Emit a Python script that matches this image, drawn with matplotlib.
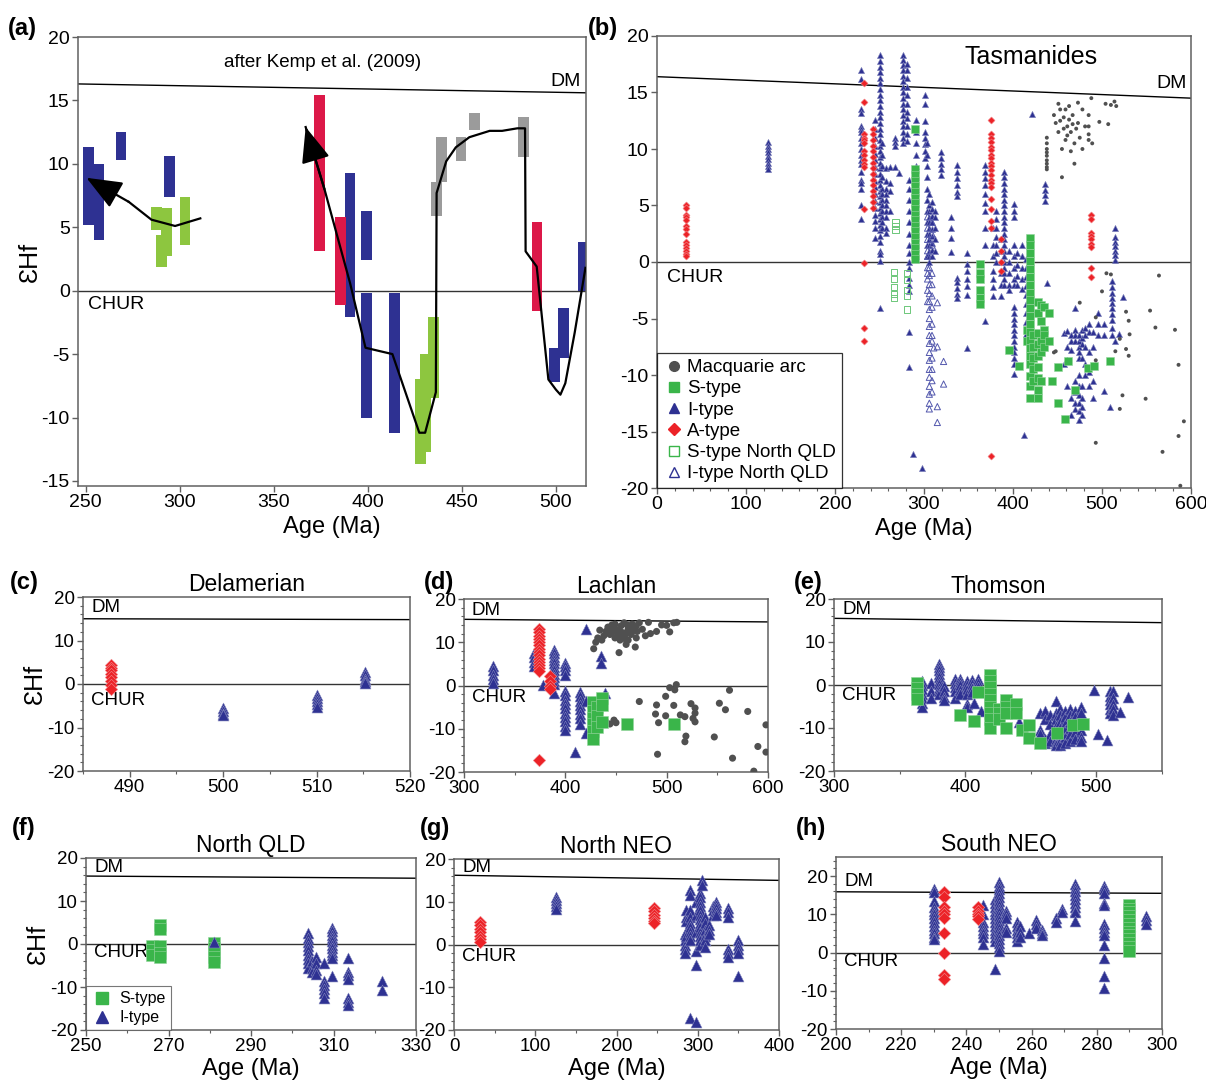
import matplotlib.pyplot as plt
from matplotlib.ticker import MultipleLocator
from matplotlib.lines import Line2D

plt.rcParams['font.family'] = ['Liberation Sans', 'DejaVu Sans']
plt.rcParams['axes.unicode_minus'] = False

W, H = 1206, 1091
BLUE = '#2E3192'
RED = '#EC2227'
GREEN = '#3AB54A'
GRAY = '#505050'
SPINE = '#606060'

# ---------------- panel (a): ranges after Kemp et al. (2009)
a_bar_mid = [251.5, 257.2, 268.8, 294.8, 390.5, 399.5, 399.5, 414.3, 499.2, 504.2, 514.5,
             374.5, 385.5, 490.0,
             287.7, 290.2, 293.2, 302.9, 428.2, 430.8, 434.9,
             436.4, 439.3, 449.6, 456.8, 482.6]
a_bar_lo = [5.2, 4.0, 10.3, 7.4, -2.1, 2.4, -10.0, -11.2, -7.2, -5.3, 0.0,
            3.1, -1.1, -1.6,
            4.8, 1.9, 2.7, 3.6, -13.7, -12.7, -8.5,
            5.9, 8.6, 10.2, 12.7, 10.5]
a_bar_hi = [11.3, 10.0, 12.5, 10.6, 9.3, 6.3, -0.2, -0.2, -4.5, -1.4, 3.8,
            15.4, 5.8, 5.4,
            6.6, 4.4, 6.5, 7.4, -7.0, -5.0, -2.1,
            8.6, 12.1, 12.1, 14.0, 13.7]
a_bar_group = ['I'] * 11 + ['A'] * 3 + ['S'] * 7 + ['M'] * 5

a_trend1_age = [311, 297.6, 285, 273, 250.5]
a_trend1_ehf = [5.7, 5.1, 5.6, 7.0, 8.9]
a_trend2_age = [367, 377, 390.6, 398.8, 413.1, 427.4, 430.5, 436.2, 436.6, 441.7, 446.8, 454,
                464.8, 471.4, 479.5, 483.6, 483.9, 489.8, 496, 500, 502.4, 505, 510, 515.7]
a_trend2_ehf = [12.9, 8.0, 0.6, -4.5, -5.0, -11.2, -11.2, -8.0, 7.7, 10.2, 11.3, 12.1,
                12.6, 12.6, 12.8, 12.8, 3.1, 1.9, -7.0, -7.8, -8.2, -7.3, -3.3, 1.8]

# ---------------- panel (b): Tasmanides, (age, [eHf ...]) columns
b_i = [
    (125, [10.6, 10.3, 10.0, 9.7, 9.4, 9.1, 8.8, 8.5, 8.2]),
    (229, [17.0, 16.2, 13.5, 13.2, 12.0, 11.8, 11.5, 11.0, 10.5, 10.0, 9.5, 9.0, 8.7, 8.0, 7.3, 7.0, 6.5, 5.0, 3.8]),
    (245, [12.6, 11.8, 11.0, 10.3, 9.6, 9.0, 8.4, 7.8, 7.2, 6.6, 6.0, 5.4, 4.8, 4.2, 3.6, 3.0, 2.1]),
    (250, [18.3, 17.8, 17.3, 16.8, 16.3, 15.8, 15.3, 14.8, 14.3, 13.8, 13.3, 12.8, 12.3, 11.8, 11.3, 10.8,
           10.3, 9.8, 9.3, 8.8, 8.3, 7.8, 7.3, 6.8, 6.3, 5.8, 5.3, 4.8, 4.3, 3.8, 3.3, 2.8, 2.3, 1.8, 1.0,
           0.7, 0.1, -4.1]),
    (253, [10.5, 9.5, 8.5, 7.5, 6.5, 6.0, 5.5, 5.0, 4.5, 4.0, 3.5, 3.0]),
    (257, [8.3, 7.2, 6.5, 6.0, 5.5, 5.0, 4.5, 4.0, 3.0, 2.6]),
    (262, [8.4, 7.0, 6.3, 4.5]),
    (267, [11.0, 10.6, 10.3, 8.4]),
    (272, [7.9]),
    (276, [18.3, 17.9, 17.4, 17.0, 16.5, 16.0, 15.5, 15.0, 14.5, 14.0, 13.5, 13.0, 12.5, 12.0, 11.5, 11.0, 10.5]),
    (281, [17.5, 17.0, 16.3, 15.5, 14.8, 14.0, 13.3, 12.7, 12.0, 11.3, 10.7]),
    (283, [7.3, 6.5, 5.5, 4.5, 3.5, 2.5, 1.5, 0.8, 0.0, -0.5, -1.4, -2.0, -2.6, -6.2, -9.3]),
    (288, [-17.0]),
    (291, [12.6, 11.5, 10.5, 9.5, 8.5, 7.5, 6.5, 5.5, 4.5, 3.5, 2.5, 1.5, 0.5]),
    (298, [-18.2]),
    (301, [14.8, 14.0, 12.5, 11.5, 11.0, 10.4, 9.8, 9.2]),
    (303, [10.5, 9.5, 8.5, 7.5, 6.5, 5.5, 4.5, 3.5, 2.5, 1.5, 0.5]),
    (306, [6.0, 5.0, 4.5, 4.0, 3.5, 3.0, 2.5, 2.0, 1.5, 1.0, 0.5, 0.0]),
    (309, [5.3, 4.7, 4.1, 3.5, 2.9, 2.3, 1.7, 1.1, 0.5]),
    (312, [4.5, 4.0, 3.0, 2.0, 1.0]),
    (319, [9.7, 9.2, 8.7, 8.2, 7.7]),
    (330, [4.0, 3.0, 2.1, 0.9]),
    (337, [8.6, 8.0, 7.4, 6.8, 6.2, 5.8, -1.4, -1.8, -2.3, -2.8, -3.2]),
    (348, [0.8, -0.2, -0.8, -1.5, -2.1, -2.9, -7.6]),
    (369, [8.6, 8.0, 7.4, 6.8, 6.0, 5.2, 4.5, 3.0, 1.5, -5.2]),
    (378, [3.0, 1.5, 0.5, -0.8, -1.5, -2.2, -3.0]),
    (381, [4.5, 3.8, 3.0, 2.2, 1.5, 0.8, 0.0]),
    (386, [2.0, 1.0, 0.0, -1.0, -2.0, -3.0]),
    (390, [8.0, 7.5, 7.0, 6.5, 6.0, 5.5, 5.0, 4.5, 4.0, 3.5, 3.0, 2.5, 2.0, 1.5, 1.0, 0.5, 0.0, -0.5,
           -1.0, -1.5, -2.0]),
    (395, [1.0, 0.0, -1.0, -2.0, -2.5]),
    (401, [5.1, 4.5, 4.0, 1.5, 0.5, -0.5, -1.5, -2.0, -4.0, -4.5, -5.0, -5.5, -6.0, -6.5, -7.0, -7.5,
           -8.0, -8.5, -9.0, -9.9]),
    (405, [0.8, -0.3, -1.2, -2.0]),
    (410, [1.5, 0.5, -0.5, -1.5, -2.4]),
    (412, [-15.3]),
    (415, [0.3, -0.5, -1.3, -2.1, -2.9, -3.7, -4.5, -5.3, -6.4]),
    (421, [13.1]),
    (436, [6.9, 6.4, 5.9, 5.4]),
    (438, [-1.9]),
    (457, [-6.3, -9.0]),
    (461, [-6.1, -7.5, -8.7, -11.0]),
    (465, [-6.5, -7.0, -7.8, -12.0, -13.5]),
    (470, [-4.1, -6.0, -6.5, -7.0, -10.5, -11.5, -12.5, -13.0]),
    (474, [-6.5, -7.0, -7.5, -8.0, -8.5, -10.0, -11.0, -11.8, -12.5, -13.2, -14.0]),
    (477, [-6.0, -6.7, -7.3, -8.5, -11.0, -12.0, -12.8, -13.5]),
    (481, [-5.8, -6.5, -7.5, -9.0, -10.0]),
    (485, [-5.5, -6.2, -8.0, -9.7, -11.0]),
    (490, [-6.2, -7.5, -10.5, -12.0]),
    (495, [-4.5, -5.5, -6.5]),
    (502, [-5.5, -6.5, -11.4]),
    (509, [-12.8]),
    (511, [-1.7, -2.2, -2.7, -3.2, -3.6, -4.1, -4.6, -5.1, -5.8, -6.5]),
    (515, [3.0, 2.2, 1.8, 1.4, 1.0, 0.6, 0.2, -7.0]),
    (519, [-6.4]),
    (524, [-3.1]),
]
b_s = [
    (290, [11.8, 8.2, 7.7, 7.2, 6.7, 6.2, 5.7, 5.2, 4.7, 4.2, 3.7, 3.2, 2.7, 2.2, 1.7, 1.2, 0.7, 0.3]),
    (363, [-0.2, -1.0, -1.5, -2.5, -3.2, -3.7]),
    (396, [-7.8]),
    (407, [-9.2]),
    (416, [-6.0, -7.0]),
    (419, [2.1, 1.5, 0.8, 0.1, -0.6, -1.3, -2.0, -2.7, -3.4, -4.1, -4.8, -5.5, -6.2, -6.9, -7.6, -8.3,
           -9.0, -10.1, -11.0, -12.0]),
    (423, [-6.5, -7.5, -8.5, -9.5, -10.5]),
    (428, [-3.5, -4.5, -6.3, -7.3, -8.3, -9.3, -10.3, -11.3, -12.0]),
    (431, [-3.8, -5.2, -7.0, -8.0, -10.5]),
    (435, [-4.0, -6.0, -6.5, -7.5]),
    (440, [-4.5, -7.0]),
    (444, [-10.5]),
    (451, [-9.3, -12.5]),
    (458, [-13.9]),
    (462, [-8.8]),
    (470, [-11.3]),
    (484, [-9.4]),
    (491, [-9.2]),
    (509, [-8.8]),
]
b_a = [
    (33, [5.0, 4.8, 4.2, 4.0, 3.7, 3.2, 2.9, 2.5, 1.8, 1.5, 1.2, 1.0, 0.7, 0.5]),
    (233, [15.8, 14.2, 11.3, 11.0, 10.8, 10.5, 9.8, 9.5, 9.0, 8.7, 8.4, 4.7, -0.1, -5.8, -7.0]),
    (243, [11.8, 11.3, 10.8, 10.3, 9.8, 9.3, 8.8, 8.3, 7.8, 7.3, 6.8, 6.3, 5.8, 5.3, 4.8]),
    (375, [12.6, 11.3, 11.0, 10.6, 10.2, 9.9, 9.5, 9.2, 8.8, 8.5, 8.1, 7.7, 7.3, 7.0, 6.6, 5.6, 4.7,
           3.6, 3.0, -17.2]),
    (387, [2.0, 1.0, 0.0, -0.8]),
    (488, [4.2, 3.8, 2.6, 2.3, 2.0, 1.6, 1.3, -0.5, -1.3]),
]
b_mac = [
    (438, [11.0, 10.5, 10.0, 9.7, 9.4, 9.0, 8.7, 8.4, 8.2]),
    (446, [13.0, -8.0]), (448, [12.3, -7.9]), (451, [14.0, 11.5]), (453, [13.5, 12.5]),
    (455, [10.0, 7.5]), (457, [11.8, 12.8]), (459, [13.5, 10.8]), (461, [12.0, 11.2]),
    (463, [13.8, 12.6]), (465, [9.8, 11.5]), (467, [12.2, 13.0]), (469, [10.5, 8.7]),
    (471, [11.8]), (473, [12.3, 14.1]), (475, [11.0, -3.6]), (478, [10.0, 13.5]), (481, [12.0]),
    (485, [10.8, 13.0, 12.0, 11.3]), (488, [14.5]), (489, [10.5]), (493, [-4.9, -8.7, -16.0]),
    (497, [12.4]), (500, [-2.6]), (504, [14.0]), (505, [-1.0]), (507, [12.2]), (510, [13.9, -1.1]),
    (514, [14.2]), (516, [13.8]), (515, [-7.9]), (520, [-6.8, -13.0]), (523, [-11.8]),
    (527, [-4.4, -7.7]), (530, [-5.2, -8.3]), (531, [-6.4]), (549, [-12.1]), (554, [-4.3]),
    (560, [-5.8]), (564, [-1.2]), (568, [-16.8]), (582, [-6.0]), (586, [-9.1, -15.4]),
    (588, [-19.8]), (592, [-14.1]),
]
b_s_nq = [(266, [-0.9, -1.5, -2.2, -2.8, -3.2]), (268, [3.5, 3.2, 2.8]), (281, [-1.0, -1.6, -2.5, -3.0, -4.2])]
b_i_nq = [
    (304, [4.0, 3.0, 2.0, 1.0, 0.5, -0.5, -1.0, -1.5, -2.5, -3.5]),
    (306, [-0.5, -1.2, -2.0, -2.8, -3.5, -4.2, -5.0, -5.7, -6.5, -7.2, -8.0, -8.7, -9.5, -10.2, -11.0,
           -11.7, -12.5, -13.0]),
    (309, [3.5, 2.5, 1.5, -1.0, -2.0, -3.0, -4.0, -5.5, -6.5, -7.0, -8.5, -9.5, -10.5, -11.5]),
    (311, [-7.6]),
    (315, [-3.6, -7.5, -12.8, -14.2]),
    (322, [-8.8, -10.8]),
]

# ---------------- panel (c): Delamerian
c_a = [(488, [4.3, 3.6, 3.2, 2.4, 1.6, 0.8, -0.3, -1.1])]
c_i = [(500, [-5.5, -6.2, -6.8, -7.2]), (510, [-2.5, -3.2, -4.0, -4.6, -5.2]),
       (515.2, [2.8, 2.0, 1.2, 0.6, 0.2])]

# ---------------- panel (d): Lachlan
d_i = [
    (329, [4.5, 3.5, 2.5, 1.5, 0.6]),
    (369, [7.6, 6.5, 5.5, 4.5]),
    (378, [0.2]),
    (389, [8.3, 7.5, 6.7, 5.9, 5.1, 4.3, 3.5, 2.7, 1.9, 1.1, 0.3, -1.7]),
    (400, [5.3, 4.5, 3.5, 2.5, -1.3, -2.3, -3.3, -4.3, -5.3, -6.3, -7.3, -8.3, -9.3, -10.3]),
    (410, [-15.4]),
    (414, [-1.5, -2.5, -3.5, -4.5, -5.5, -6.5, -7.5, -9.0]),
    (420, [13.1, -3.5, -10.9]),
    (435, [6.9, 5.3]),
    (439, [-1.7]),
]
d_a = [(374, [13.1, 12.3, 11.5, 10.8, 10.0, 9.3, 8.5, 7.8, 7.0, 6.2, 5.5, 4.7, 4.0, 3.3, -17.3]),
       (385, [2.2, 1.0, 0.0, -0.9])]
d_s = [(427, [-3.7, -6.0, -7.5, -9.0, -10.5, -12.3]), (431, [-5.0, -7.0, -9.5]),
       (436, [-3.0, -4.5, -8.5]), (461, [-8.8]), (507, [-8.8])]
d_mac = [
    (428, [8.5]), (430, [10.0]), (432, [11.0]), (434, [12.8]), (436, [10.5]), (438, [11.5]),
    (440, [12.5, -8.4]), (442, [13.5]), (444, [11.8, -8.9]), (445, [12.0, 13.0]), (446, [14.0]),
    (448, [12.5, -8.0]), (449, [14.2, 11.0]), (450, [13.0, -8.6]), (452, [11.5]), (453, [7.6]),
    (454, [12.5, 10.5]), (455, [13.8]), (457, [12.2]), (458, [14.5, 11.5]), (459, [10.8]),
    (460, [12.0, 9.5]), (461, [14.0]), (462, [13.0, 10.5]), (463, [12.8]), (465, [11.8]),
    (466, [12.5, 14.2]), (467, [13.5]), (469, [8.9]), (470, [11.0, 13.8]), (471, [12.5]),
    (473, [14.5, -3.7]), (476, [13.0]), (479, [11.5]), (482, [14.6]), (484, [12.0]), (489, [-6.6]),
    (490, [12.5, -4.5]), (491, [-15.9]), (492, [-8.6]), (495, [14.0]), (499, [-2.5, -7.0]),
    (500, [13.9]), (503, [12.4, -0.5]), (507, [14.5, -4.6]), (508, [-1.0]), (509.5, [0.2]),
    (510, [14.6]), (513.5, [-6.8]), (518, [-7.2, -13.0]), (519, [-11.7]), (524, [-4.2]),
    (526, [-7.6]), (528, [-5.2, -6.4, -8.4]), (547, [-11.9]), (552, [-4.1]), (558, [-5.6]),
    (562, [-1.1]), (565, [-16.8]), (580, [-6.0]), (586, [-19.8]), (590, [-14.1]),
    (598, [-15.4, -9.1]),
]

# ---------------- panel (e): Thomson
e_i = [
    (367, [0.9, 0.0, -1.0, -2.0, -3.0, -4.2, -5.0]),
    (374, [0.5, -1.5, -3.0]),
    (380, [5.0, 4.2, 3.4, 2.6, 1.8, 1.0, 0.2, -0.6, -1.4, -2.2]),
    (384, [-0.3, -1.5, -2.8, -3.5]),
    (392, [1.5, 0.5, -0.5, -1.5, -3.0]),
    (396, [1.5, 0.8, 0.0, -1.2, -2.2]),
    (401, [1.0, 0.0, -1.0, -2.0, -4.5, -5.0]),
    (405, [1.2, 0.3, -0.7, -1.7]),
    (407, [-4.2]),
    (410, [1.5, 0.5, -0.5, -1.5]),
    (412, [-6.0]),
    (441, [-8.7]),
    (457, [-6.6, -10.5, -11.5]),
    (461, [-6.0, -8.0, -12.5, -13.5]),
    (465, [-7.0, -9.0, -11.5, -13.0]),
    (469, [-3.8, -6.5, -8.0, -9.5, -11.0, -12.5, -13.5, -14.0]),
    (472, [-5.5, -7.0, -8.5, -10.0, -11.5, -13.0, -14.0]),
    (476, [-6.0, -7.5, -9.0, -10.5, -12.0, -13.5]),
    (480, [-5.5, -7.0, -8.5, -10.0, -11.5, -13.0]),
    (484, [-6.0, -7.5, -9.5, -11.0, -12.5]),
    (488, [-5.0, -6.5, -10.5, -12.0, -13.0]),
    (498, [-1.1]),
    (501, [-11.3]),
    (508, [-12.8]),
    (510, [-1.5, -2.5, -3.5, -4.5, -5.5, -6.5]),
    (513, [-1.5, -3.0, -4.5, -5.5, -7.0]),
    (518, [-6.2]),
    (524, [-2.9]),
]
e_s = [
    (363, [0.5, -0.8, -2.0, -3.3]),
    (396, [-7.0]),
    (407, [-8.4]),
    (410, [-1.7]),
    (419, [2.4, 1.0, -0.5, -2.0, -3.5, -5.0, -6.5, -8.0, -10.1]),
    (426, [-5.5, -6.5, -8.0]),
    (431, [-3.5, -5.0, -6.5, -10.0]),
    (439, [-4.5, -6.5]),
    (443, [-10.5]),
    (449, [-9.3, -12.4]),
    (457, [-13.6]),
    (470, [-11.1]),
    (482, [-9.3]),
    (490, [-9.1]),
]

# ---------------- panel (f): North QLD
f_s = [(266, [-0.5, -1.5, -2.5]), (268, [4.5, 3.5, -0.5, -2.0, -3.0]), (281, [0.3, -1.0, -2.0, -3.0, -4.2])]
f_i = [
    (281, [0.5]),
    (303.7, [2.5, 1.5, 0.5, -0.5, -1.5, -2.5, -3.5, -4.5, -5.5]),
    (304.7, [-4.0, -5.5, -6.5]),
    (305.8, [-3.0, -4.5, -6.0, -7.0]),
    (307.7, [-4.5, -8.5, -9.5, -10.5, -11.5, -12.5]),
    (309.6, [3.8, 3.0, 2.2, 1.4, 0.6, -0.2, -1.0, -1.8, -2.6, -3.3, -7.5]),
    (313.6, [-3.3, -6.5, -7.3, -8.2, -12.5, -13.5, -14.3]),
    (321.7, [-8.7, -10.8]),
]
f_xticks = [250, 270, 290, 310, 330]

# ---------------- panel (g): North NEO
g_a = [(32, [5.3, 4.5, 3.7, 2.9, 2.1, 1.3, 0.7]), (246, [8.5, 7.8, 7.0, 6.3, 5.5, 5.0])]
g_i = [
    (126, [11.0, 10.3, 9.6, 9.0, 8.3]),
    (284, [2.5, 1.0, 0.0, -1.0, -2.0]),
    (286, [8.0, 6.5, 5.5, 3.0, 2.0]),
    (290, [12.8, 11.5, 8.0, 6.5, 5.0, 4.0, 3.0, 2.0, 1.0, -17.1]),
    (298, [10.0, 7.0, 3.0, -1.5, -4.7, -18.2]),
    (303, [12.0, 11.0, 10.0, 9.0, 8.0, 7.0, 6.0, 5.0, 4.0, 3.0, 2.0, 1.0, 0.0]),
    (305.6, [15.1, 14.0]),
    (308.5, [6.5, 5.0, 3.5, 2.0, 1.0, -0.5]),
    (313.8, [4.5, 3.5, 2.5]),
    (318.8, [9.0, 8.0, 7.0]),
    (322, [10.0, 9.3, 8.5, 7.5, 6.8]),
    (337, [8.5, 7.5, 6.5, -1.0, -2.0, -3.0]),
    (349.5, [1.0, 0.0, -1.0, -2.0, -7.3]),
]

# ---------------- panel (h): South NEO
h_i = [
    (230, [16.5, 15.8, 13.5, 12.0, 11.0, 10.0, 9.0, 8.0, 7.0, 6.0, 5.0, 4.0, 3.5]),
    (245, [12.5, 10.0, 8.0, 7.0, 6.0, 5.0, 4.0, 2.2]),
    (248.7, [14.0, 13.0, 12.0, 11.0, 10.0, 9.0, 8.0, 7.0, 6.0, 5.0, 4.0, 3.0, -4.3]),
    (250, [18.5, 17.5, 16.5, 15.5, 14.5, 13.5, 12.5, 11.5, 10.5, 9.5, 8.5, 7.5, 6.5, 5.5, 4.5, 3.5,
           2.5, 1.5, 0.5]),
    (252.3, [11.0, 10.0, 9.0, 6.5, 5.5]),
    (255.4, [8.0, 7.0, 6.0, 5.0, 4.0, 3.0]),
    (256.4, [7.0, 5.5, 4.0]),
    (259.2, [5.2]),
    (261.3, [8.5, 7.5, 6.5]),
    (263.3, [6.0, 5.0, 4.5]),
    (267.6, [9.0, 8.0]),
    (269.2, [11.5, 10.5]),
    (273.2, [18.0, 17.0, 16.0, 15.0, 14.0, 13.0, 12.0, 11.0, 10.5, 8.2]),
    (282.1, [17.5, 16.5, 15.5, 13.0, 12.5, 7.5, 6.5, 5.5, 4.5, 2.0, -1.5, -6.2, -9.4]),
    (290.1, [12.5, 7.0]),
    (295.2, [9.5, 8.5, 7.5]),
]
h_a = [(233.1, [15.8, 14.5, 12.0, 11.0, 10.0, 9.0, 5.0, 0.0, -5.8, -6.8]),
       (243.6, [11.8, 11.0, 10.2, 9.5, 8.8])]
h_s = [(289.9, [12.5, 11.5, 10.5, 9.5, 8.5, 7.5, 6.5, 5.5, 4.5, 3.5, 2.5, 1.5, 0.5])]

# DM reference line end points (age0, eHf0, age1, eHf1) per panel
dm_a = (246, 16.3, 516, 15.6)
dm_b = (0, 16.4, 600, 14.5)
dm_c = (485, 15.0, 520, 14.8)
dm_d = (300, 15.3, 600, 14.7)
dm_e = (300, 15.5, 550, 14.5)
dm_f = (250, 15.8, 330, 15.3)
dm_g = (0, 16.2, 400, 15.0)
dm_h = (200, 15.9, 300, 15.5)

STYLES = {
    'I': dict(marker='^', facecolors=BLUE, edgecolors='#8387bd', linewidths=0.4),
    'S': dict(marker='s', facecolors=GREEN, edgecolors='#93d49c', linewidths=0.4),
    'A': dict(marker='D', facecolors=RED, edgecolors='#f28b8e', linewidths=0.4),
    'M': dict(marker='o', facecolors=GRAY, edgecolors='none'),
    'SQ': dict(marker='s', facecolors='none', edgecolors='#6cc779', linewidths=0.7),
    'IQ': dict(marker='^', facecolors='none', edgecolors='#5358ad', linewidths=0.7),
}


def cols_xy(cols):
    xs, ys = [], []
    for age, vals in cols:
        xs.extend([age] * len(vals))
        ys.extend(vals)
    return xs, ys


def draw(ax, cols, kind, size):
    xs, ys = cols_xy(cols)
    ax.scatter(xs, ys, s=size, zorder=3, clip_on=True, **STYLES[kind])


fig = plt.figure(figsize=(W / 100, H / 100), dpi=100)


def px_axes(left, top, width, height):
    return fig.add_axes([left / W, 1 - (top + height) / H, width / W, height / H])


def frame(ax, xlim, ylim, dm, fs=13):
    ax.set_xlim(*xlim)
    ax.set_ylim(*ylim)
    ax.plot([dm[0], dm[2]], [dm[1], dm[3]], color='black', lw=1.0, zorder=2)
    ax.axhline(0, color='#333333', lw=1.0, zorder=2)
    for sp in ax.spines.values():
        sp.set_color(SPINE)
        sp.set_linewidth(1.1)
    ax.tick_params(which='both', direction='out', colors='black', labelsize=fs, pad=2)
    ax.tick_params(which='major', length=4, width=1, color=SPINE)
    ax.tick_params(which='minor', length=2.5, width=0.8, color=SPINE)


# ================= (a)
ax = px_axes(78, 37, 508, 449)
frame(ax, (246, 516), (-15.4, 20), dm_a, fs=14)
ax.xaxis.set_major_locator(MultipleLocator(50))
ax.yaxis.set_major_locator(MultipleLocator(5))
bar_colors = {'I': '#2E3192', 'A': '#DC1848', 'S': '#8DC63F', 'M': '#9B9B9B'}
ax.bar(a_bar_mid, [h - l for l, h in zip(a_bar_lo, a_bar_hi)], bottom=a_bar_lo, width=5.7,
       color=[bar_colors[g] for g in a_bar_group], zorder=2.5)
ax.plot(a_trend1_age[:-1], a_trend1_ehf[:-1], color='black', lw=1.6, zorder=4)
ax.plot(a_trend2_age, a_trend2_ehf, color='black', lw=1.6, zorder=4)
for tip, tail in [((a_trend1_age[-1], a_trend1_ehf[-1]), (a_trend1_age[-2], a_trend1_ehf[-2])),
                  ((a_trend2_age[0], a_trend2_ehf[0]), (a_trend2_age[1], a_trend2_ehf[1]))]:
    ax.annotate('', xy=tip, xytext=tail, zorder=5,
                arrowprops=dict(arrowstyle='-|>,head_length=1.1,head_width=0.45', color='black',
                                lw=1.6, mutation_scale=20, shrinkA=0, shrinkB=0))
ax.text(376, 18.0, 'after Kemp et al. (2009)', ha='center', va='center', fontsize=13.5)
ax.text(513, 16.5, 'DM', ha='right', va='center', fontsize=14)
ax.text(251.5, -1.1, 'CHUR', ha='left', va='center', fontsize=14)
ax.set_ylabel('ƐHf', fontsize=18, labelpad=0)
ax.set_xlabel('Age (Ma)', fontsize=17, labelpad=3)

# ================= (b)
ax = px_axes(657, 36, 534, 452)
frame(ax, (0, 600), (-20, 20), dm_b, fs=14)
ax.xaxis.set_major_locator(MultipleLocator(100))
ax.xaxis.set_minor_locator(MultipleLocator(20))
ax.yaxis.set_major_locator(MultipleLocator(5))
draw(ax, b_i, 'I', 20)
draw(ax, b_i_nq, 'IQ', 20)
draw(ax, b_s_nq, 'SQ', 20)
draw(ax, b_a, 'A', 13)
draw(ax, b_s, 'S', 28)
draw(ax, b_mac, 'M', 8)
ax.text(0.70, 0.953, 'Tasmanides', transform=ax.transAxes, ha='center', va='center', fontsize=18)
ax.text(0.992, 15.8, 'DM', transform=ax.get_yaxis_transform(), ha='right', va='center', fontsize=14)
ax.text(0.018, -1.4, 'CHUR', transform=ax.get_yaxis_transform(), ha='left', va='center', fontsize=14)
ax.set_xlabel('Age (Ma)', fontsize=17, labelpad=3)
handles = [
    Line2D([], [], ls='none', marker='o', ms=7, mfc=GRAY, mec=GRAY),
    Line2D([], [], ls='none', marker='s', ms=7, mfc=GREEN, mec=GREEN),
    Line2D([], [], ls='none', marker='^', ms=7, mfc=BLUE, mec=BLUE),
    Line2D([], [], ls='none', marker='D', ms=6, mfc=RED, mec=RED),
    Line2D([], [], ls='none', marker='s', ms=7, mfc='none', mec=GREEN),
    Line2D([], [], ls='none', marker='^', ms=7, mfc='none', mec=BLUE),
]
labels = ['Macquarie arc', 'S-type', 'I-type', 'A-type', 'S-type North QLD', 'I-type North QLD']
leg = ax.legend(handles, labels, loc='lower left', fontsize=13.5, frameon=True, fancybox=False,
                borderaxespad=0, handletextpad=0.1, labelspacing=0.22, borderpad=0.3,
                handlelength=1.2)
leg.get_frame().set_edgecolor('black')
leg.get_frame().set_linewidth(0.9)

# ================= small panels


def small(ax, title, xlim, ylim, dm, xmaj, xmin, ylab=False, xlab=False, dm_y=17.5, chur_y=-2.5):
    frame(ax, xlim, ylim, dm, fs=13.5)
    ax.xaxis.set_major_locator(MultipleLocator(xmaj))
    ax.xaxis.set_minor_locator(MultipleLocator(xmin))
    ax.yaxis.set_major_locator(MultipleLocator(10))
    ax.yaxis.set_minor_locator(MultipleLocator(2))
    ax.set_title(title, fontsize=16.5, pad=4)
    ax.text(0.025, dm_y, 'DM', transform=ax.get_yaxis_transform(), ha='left', va='center', fontsize=13.5)
    ax.text(0.025, chur_y, 'CHUR', transform=ax.get_yaxis_transform(), ha='left', va='center',
            fontsize=13.5)
    if ylab:
        ax.set_ylabel('ƐHf', fontsize=18, labelpad=0)
    if xlab:
        ax.set_xlabel('Age (Ma)', fontsize=17, labelpad=2)


ax = px_axes(83, 597, 327, 174)
small(ax, 'Delamerian', (485, 520), (-20, 20), dm_c, 10, 5, ylab=True, dm_y=17.5, chur_y=-3.7)
draw(ax, c_a, 'A', 40)
draw(ax, c_i, 'I', 62)

ax = px_axes(464, 599, 304, 173)
small(ax, 'Lachlan', (300, 600), (-20, 20), dm_d, 100, 50, dm_y=17.4, chur_y=-2.7)
draw(ax, d_mac, 'M', 26)
draw(ax, d_i, 'I', 62)
draw(ax, d_a, 'A', 40)
draw(ax, d_s, 'S', 78)

ax = px_axes(834, 599, 328, 172)
small(ax, 'Thomson', (300, 550), (-20, 20), dm_e, 100, 50, dm_y=17.6, chur_y=-2.5)
draw(ax, e_i, 'I', 62)
draw(ax, e_s, 'S', 78)

ax = px_axes(86, 858, 330, 172)
small(ax, 'North QLD', (250, 330), (-20, 20), dm_f, 20, 10, ylab=True, xlab=True, dm_y=17.7,
      chur_y=-2.0)
ax.set_xticks(f_xticks)
draw(ax, f_s, 'S', 78)
draw(ax, f_i, 'I', 62)
handles = [Line2D([], [], ls='none', marker='s', ms=8, mfc=GREEN, mec=GREEN),
           Line2D([], [], ls='none', marker='^', ms=8, mfc=BLUE, mec=BLUE)]
leg = ax.legend(handles, ['S-type', 'I-type'], loc='lower left', fontsize=11.5, frameon=True,
                fancybox=False, borderaxespad=0, handletextpad=0.4, labelspacing=0.25,
                borderpad=0.3, handlelength=1.4)
leg.get_frame().set_edgecolor('#555555')
leg.get_frame().set_linewidth(0.8)

ax = px_axes(454, 859, 325, 171)
small(ax, 'North NEO', (0, 400), (-20, 20), dm_g, 100, 50, xlab=True, dm_y=18.0, chur_y=-2.8)
draw(ax, g_i, 'I', 62)
draw(ax, g_a, 'A', 40)

ax = px_axes(836, 857, 326, 172)
small(ax, 'South NEO', (200, 300), (-20, 25), dm_h, 20, 10, xlab=True, dm_y=18.6, chur_y=-2.4)
draw(ax, h_i, 'I', 62)
draw(ax, h_a, 'A', 40)
draw(ax, h_s, 'S', 78)

# panel letters
for letter, x, y in [('(a)', 8, 29), ('(b)', 588, 29), ('(c)', 10, 583), ('(d)', 424, 583),
                     ('(e)', 794, 583), ('(f)', 12, 829), ('(g)', 420, 829), ('(h)', 796, 829)]:
    fig.text(x / W, 1 - y / H, letter, fontsize=17, fontweight='bold', ha='left', va='center')

fig.savefig('out.png', dpi=100)
